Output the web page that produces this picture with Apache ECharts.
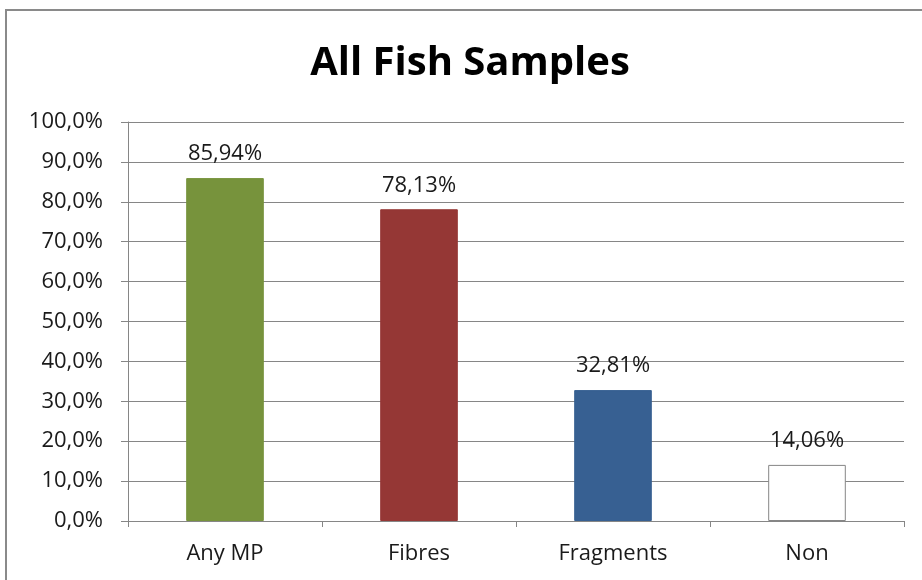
<!DOCTYPE html>
<html>
<head>
<meta charset="utf-8">
<script src="https://cdn.jsdelivr.net/npm/echarts@6/dist/echarts.min.js"></script>
<style>
  html, body { margin: 0; padding: 0; background: #fff; }
  #chart { width: 922px; height: 580px; }
</style>
</head>
<body>
<div id="chart"></div>
<script>
// Share of fish samples containing each microplastic type (%)
const categories = ['Any MP', 'Fibres', 'Fragments', 'Non'];
const values = [85.94, 78.13, 32.81, 14.06];
const barColors = ['#77933C', '#953735', '#376092', '#FFFFFF'];
const yTicks = { min: 0, max: 100, interval: 10 };

const fontFamily = '"Open Sans", "Noto Sans", sans-serif';
const gray = '#868686';
const textColor = '#1a1a1a';

const pct = (v, d) => v.toFixed(d).replace('.', ',') + '%';

const chart = echarts.init(document.getElementById('chart'), null, { renderer: 'canvas' });
chart.setOption({
  backgroundColor: '#fff',
  animation: false,
  graphic: [{
    type: 'rect',
    shape: { x: 6, y: 10, width: 930, height: 600 },
    style: { fill: 'none', stroke: '#8a8a8a', lineWidth: 2 },
    z: 10
  }],
  title: {
    text: 'All Fish Samples',
    left: 465, top: 39, textAlign: 'center',
    textStyle: { fontFamily, fontSize: 40, fontWeight: 'bold', color: '#000' }
  },
  grid: { left: 128, right: 18, top: 122, bottom: 59 },
  xAxis: {
    type: 'category',
    data: categories,
    axisLine: { lineStyle: { color: gray, width: 1 } },
    axisTick: { show: true, length: 6, lineStyle: { color: gray } },
    axisLabel: { margin: 22, fontFamily, fontSize: 22, color: textColor }
  },
  yAxis: {
    type: 'value',
    min: yTicks.min, max: yTicks.max, interval: yTicks.interval,
    axisLine: { show: true, lineStyle: { color: gray, width: 1 } },
    axisTick: { show: true, length: 7, lineStyle: { color: gray } },
    splitLine: { lineStyle: { color: gray, width: 1 } },
    axisLabel: { margin: 25, fontFamily, fontSize: 22, color: textColor, formatter: v => pct(v, 1) }
  },
  series: [{
    type: 'bar',
    barWidth: '40%',
    data: values.map((v, i) => ({
      value: v,
      itemStyle: {
        color: barColors[i],
        borderColor: i === 3 ? gray : barColors[i],
        borderWidth: 1
      }
    })),
    label: {
      show: true, position: 'top', distance: 13,
      fontFamily, fontSize: 22, color: textColor,
      formatter: p => pct(p.value, 2)
    }
  }]
});
</script>
</body>
</html>
